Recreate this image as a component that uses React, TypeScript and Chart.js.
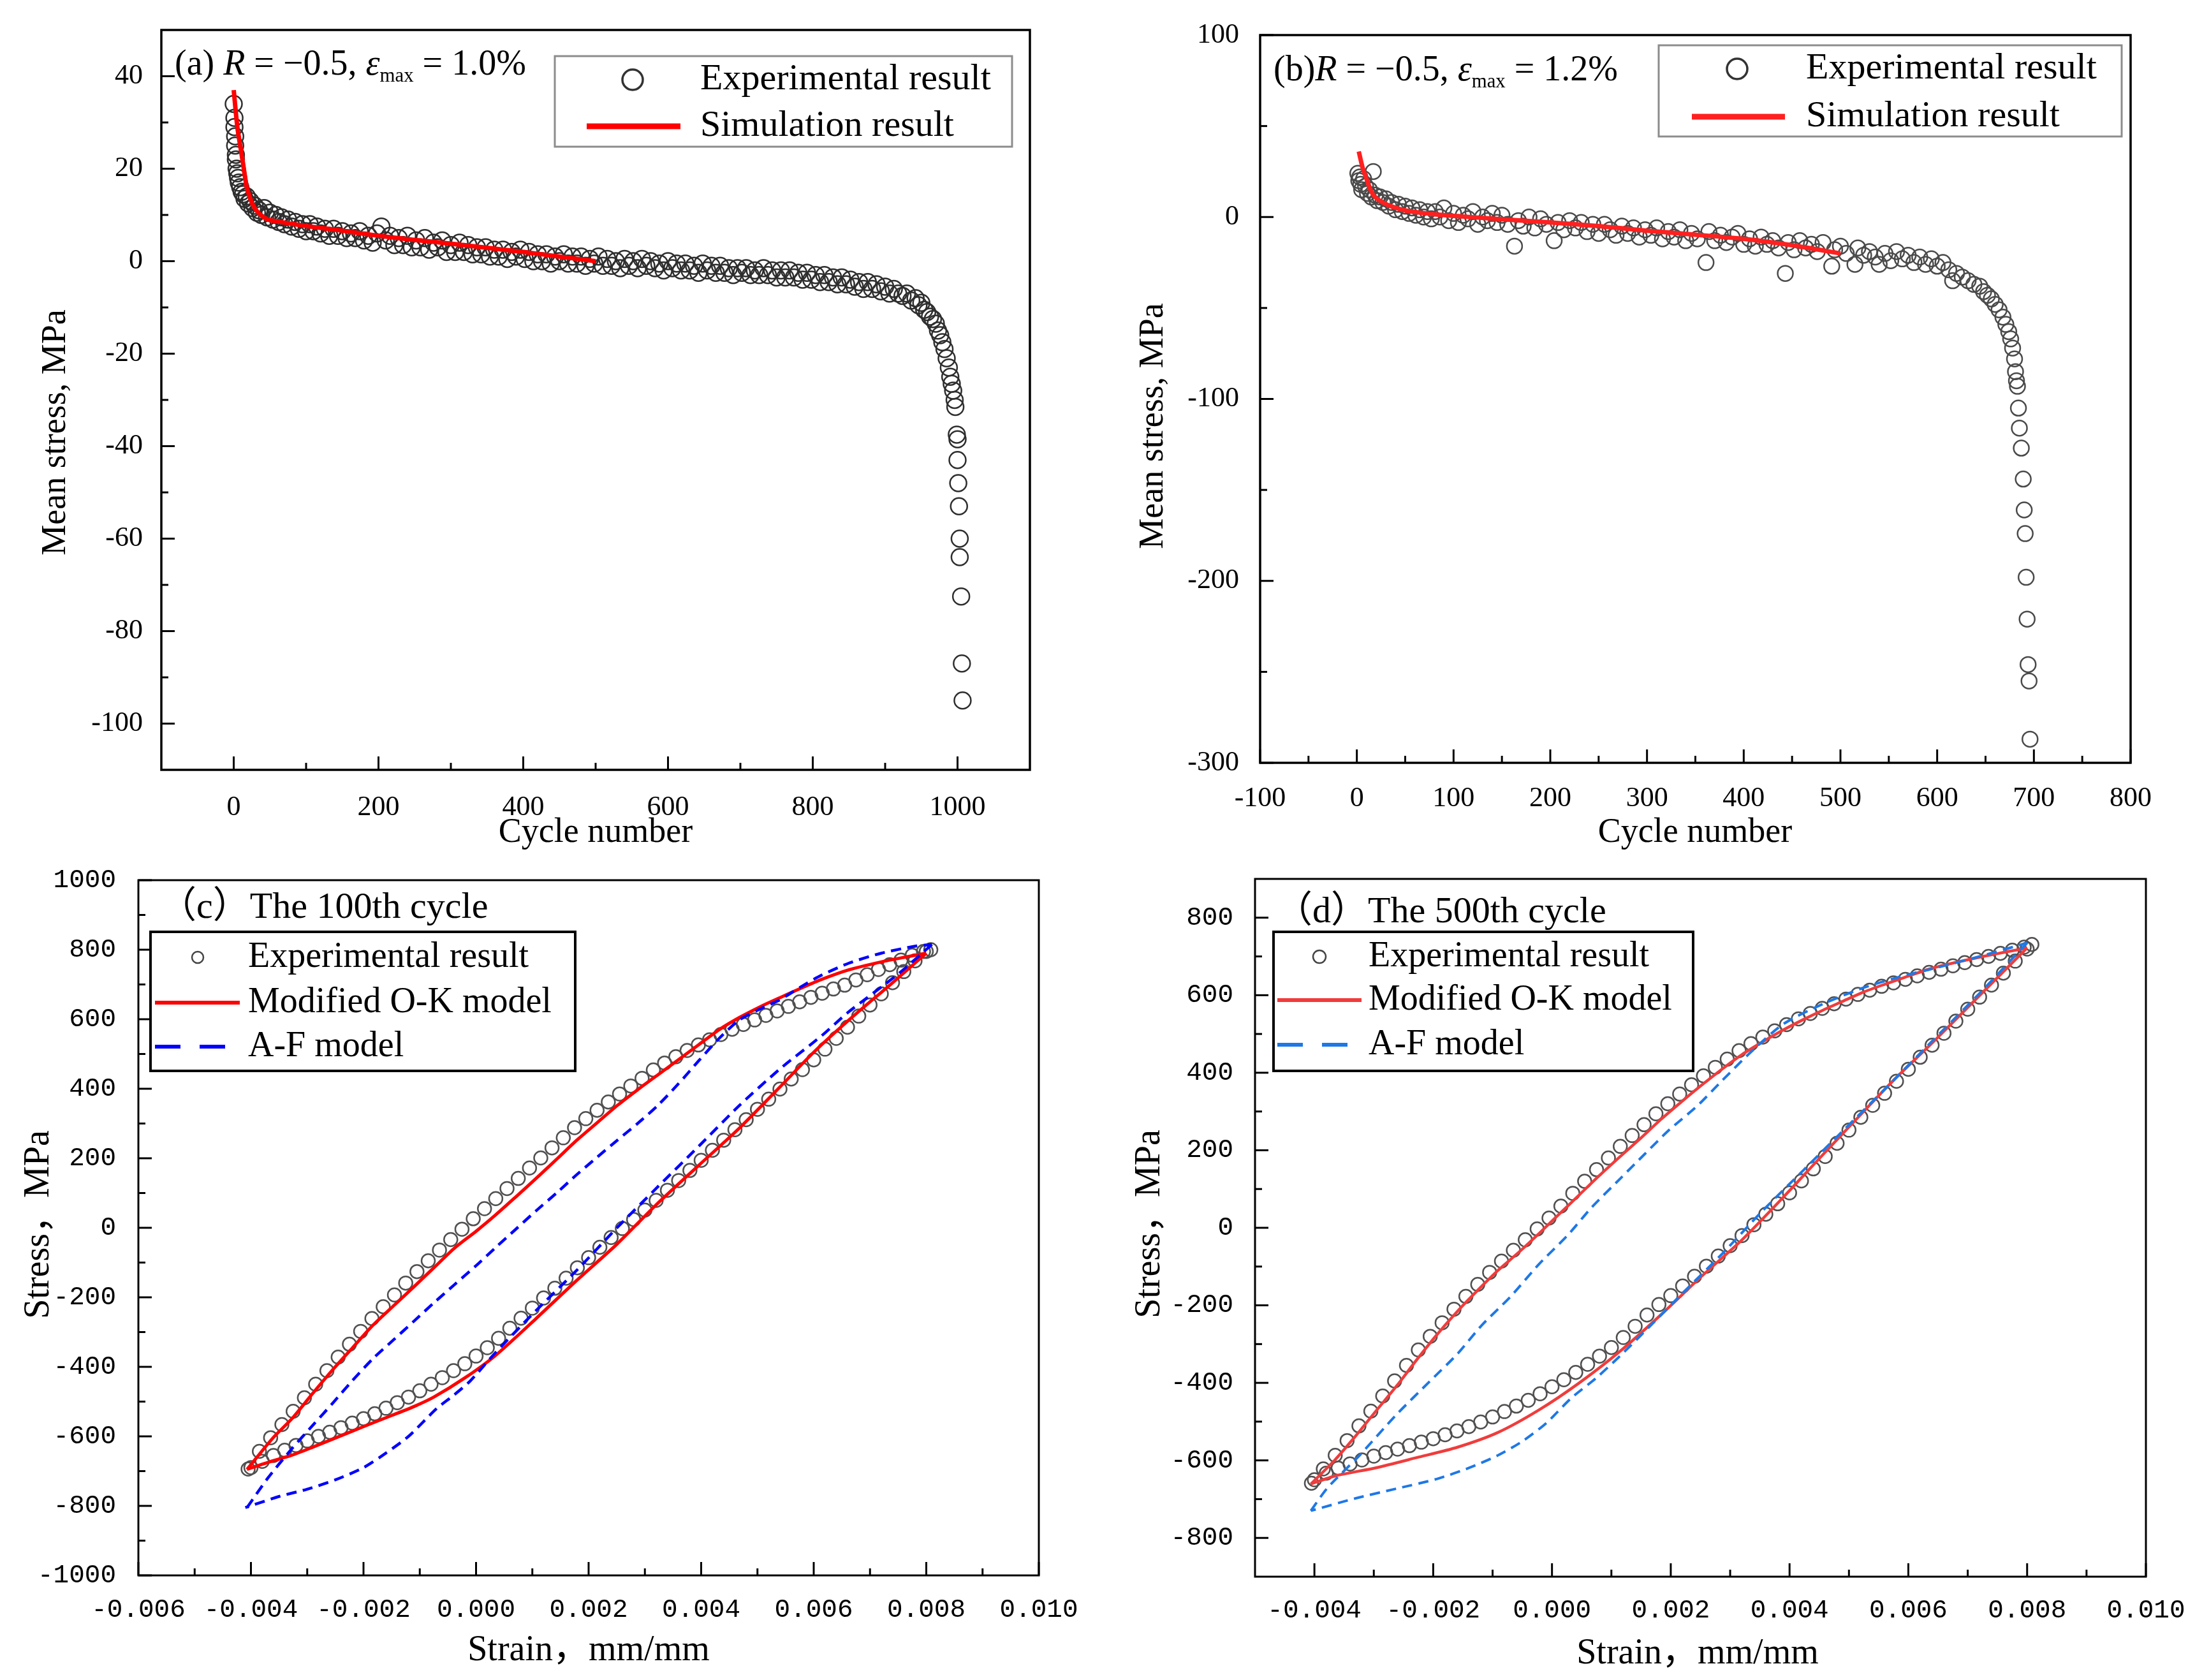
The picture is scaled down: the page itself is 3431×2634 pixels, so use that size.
import React, { useEffect, useRef } from 'react';
import { Chart, registerables } from 'chart.js';

Chart.register(...registerables);

type Pt = [number, number];

// ---- (a) R = -0.5, emax = 1.0% : mean stress vs cycle ----
const cycleTicksA = [0, 200, 400, 600, 800, 1000];
const stressTicksA = [-100, -80, -60, -40, -20, 0, 20, 40];
const expA: Pt[] = [
  [0, 34], [1, 31], [1, 29], [2, 27], [2, 25], [3, 23], [3, 22], [4, 20], [5, 19], [6, 18], [7, 17], [9, 16],
  [11, 15], [13, 14.5], [15, 13.5], [18, 14], [20, 12.5], [23, 13], [26, 11.5], [29, 12], [32, 10.5], [35, 11],
  [38, 10], [42, 11.5], [46, 9.5], [50, 10.5], [54, 9], [58, 10], [62, 8.5], [66, 9.5], [70, 8], [75, 9],
  [80, 7.5], [85, 8.5], [90, 7], [95, 8], [100, 6.5], [105, 8], [110, 6.5], [115, 7.5], [120, 6], [126, 7],
  [132, 5.5], [138, 7], [144, 5.5], [150, 6.5], [156, 5], [162, 6], [168, 5], [174, 6.5], [180, 4.5], [186, 5.5],
  [192, 4], [198, 6], [204, 7.5], [210, 4.5], [216, 5.5], [222, 3.5], [228, 5], [234, 3.5], [240, 5.5], [246, 3],
  [252, 4.5], [258, 3], [264, 5], [270, 2.5], [276, 4], [282, 3], [288, 4.5], [294, 2], [300, 3.5], [306, 2],
  [312, 4], [318, 2], [324, 3.5], [330, 1.5], [336, 3], [342, 1.5], [348, 3], [354, 1], [360, 2.5], [366, 1],
  [372, 2.5], [378, 0.5], [384, 2], [390, 1], [396, 2.5], [402, 0.5], [408, 2], [414, 0], [420, 1.5], [426, 0],
  [432, 1.5], [438, -0.5], [444, 1], [450, 0], [456, 1.5], [462, -0.5], [468, 1], [474, -0.5], [480, 1], [486, -1],
  [492, 0.5], [498, -0.5], [504, 1], [510, -1], [516, 0.5], [522, -1], [528, 0], [534, -1.5], [540, 0.5], [546, -1],
  [552, 0], [558, -1.5], [564, 0.5], [570, -1], [576, 0], [582, -1.5], [588, -0.5], [594, -2], [600, 0], [606, -1.5],
  [612, -0.5], [618, -2], [624, -0.5], [630, -2], [636, -1], [642, -2.5], [648, -0.5], [654, -2], [660, -1], [666, -2.5],
  [672, -1], [678, -2.5], [684, -1.5], [690, -3], [696, -1.5], [702, -2.5], [708, -1.5], [714, -3], [720, -2], [726, -3],
  [732, -1.5], [738, -3], [744, -2], [750, -3.5], [756, -2], [762, -3.5], [768, -2], [774, -3.5], [780, -2.5], [786, -4],
  [792, -2.5], [798, -4], [804, -3], [810, -4.5], [816, -3], [822, -4.5], [828, -3.5], [834, -5], [840, -3.5], [846, -5],
  [852, -4], [858, -5.5], [864, -4.5], [870, -6], [876, -4.5], [882, -6], [888, -5], [894, -6.5], [900, -5.5], [906, -7],
  [912, -6], [918, -7], [924, -7.5], [930, -7], [936, -8.5], [942, -8], [946, -9.5], [950, -9], [954, -10.5], [958, -11],
  [962, -12], [966, -12.5], [970, -13.5], [973, -15], [976, -16], [979, -17.5], [982, -19], [985, -21], [988, -23],
  [990, -25], [992, -26.5], [994, -28], [996, -30], [997, -31.5], [999, -37.5], [1000, -38.5], [1000, -43], [1001, -48],
  [1002, -53], [1003, -60], [1003, -64], [1005, -72.5], [1006, -87], [1007, -95],
];
const simA: Pt[] = [
  [0, 37], [5, 29], [10, 24], [13, 21], [18, 16], [23, 13.5], [27, 12], [35, 10.3], [47, 9], [60, 8.6],
  [100, 7.6], [150, 6.6], [200, 5.5], [250, 4.6], [300, 3.8], [350, 2.9], [400, 2], [450, 1], [500, 0],
];

// ---- (b) R = -0.5, emax = 1.2% ----
const cycleTicksB = [-100, 0, 100, 200, 300, 400, 500, 600, 700, 800];
const stressTicksB = [-300, -200, -100, 0, 100];
const expB: Pt[] = [
  [1, 24], [2, 20], [3, 22], [4, 18], [5, 15], [7, 21], [9, 17], [11, 13], [13, 15], [15, 11], [17, 25], [19, 12],
  [21, 9], [24, 11], [27, 8], [30, 10], [33, 6], [36, 8], [40, 4], [43, 7], [47, 3], [50, 6], [54, 2], [57, 5],
  [61, 1], [65, 4], [69, 0], [73, 3], [77, -1], [81, 3], [86, 0], [90, 5], [95, -2], [100, 2], [105, -3], [110, 1],
  [115, -1], [120, 3], [125, -4], [130, 0], [135, -2], [140, 2], [145, -3], [150, 1], [156, -4], [163, -16], [167, -2],
  [172, -5], [178, 0], [184, -6], [190, -1], [196, -4], [204, -13], [208, -3], [214, -7], [220, -2], [226, -6],
  [232, -3], [238, -8], [244, -4], [250, -9], [256, -4], [262, -7], [268, -10], [274, -5], [280, -9], [286, -6],
  [292, -11], [298, -7], [304, -10], [310, -6], [316, -12], [322, -8], [328, -11], [334, -7], [340, -13], [346, -9],
  [352, -12], [361, -25], [364, -8], [370, -13], [376, -10], [382, -14], [388, -11], [394, -9], [400, -15], [406, -12],
  [412, -16], [418, -11], [424, -15], [430, -13], [436, -17], [443, -31], [446, -14], [452, -18], [458, -13], [464, -17],
  [470, -15], [476, -19], [482, -14], [491, -27], [494, -18], [500, -16], [506, -20], [515, -26], [518, -17], [524, -21],
  [530, -19], [536, -22], [540, -26], [546, -20], [552, -24], [558, -19], [564, -23], [570, -21], [576, -25], [582, -22],
  [588, -26], [594, -23], [600, -27], [606, -25], [612, -29], [616, -35], [620, -31], [626, -33], [632, -35], [638, -37],
  [644, -38], [648, -41], [652, -43], [656, -45], [660, -48], [664, -51], [668, -55], [671, -59], [674, -63], [676, -67],
  [678, -72], [680, -78], [681, -85], [682, -90], [683, -93], [684, -105], [685, -116], [687, -127], [689, -144],
  [690, -161], [691, -174], [692, -198], [693, -221], [694, -246], [695, -255], [696, -287],
];
const simB: Pt[] = [
  [2, 36], [6, 27], [10, 21], [13, 16.5], [16, 13], [20, 10.5], [27, 8], [35, 6], [50, 3.6], [65, 2.4], [80, 1.5],
  [100, 0.6], [150, -1.2], [200, -3], [250, -5], [300, -7.5], [350, -9.7], [400, -12], [450, -15.5], [500, -20],
];

// ---- (c) the 100th cycle ----
const strainTicksC = [-0.006, -0.004, -0.002, 0, 0.002, 0.004, 0.006, 0.008, 0.01];
const stressTicksC = [-1000, -800, -600, -400, -200, 0, 200, 400, 600, 800, 1000];
const expLoadC: Pt[] = [
  [-0.00405, -694], [-0.00385, -643], [-0.00365, -604], [-0.00345, -566], [-0.00325, -528], [-0.00305, -489],
  [-0.00285, -450], [-0.00265, -411], [-0.00245, -372], [-0.00225, -335], [-0.00205, -298], [-0.00185, -261],
  [-0.00165, -227], [-0.00145, -193], [-0.00125, -159], [-0.00105, -126], [-0.00085, -95], [-0.00065, -64],
  [-0.00045, -34], [-0.00025, -4], [-0.00005, 26], [0.00015, 55], [0.00035, 84], [0.00055, 113], [0.00075, 142],
  [0.00095, 172], [0.00115, 201], [0.00135, 230], [0.00155, 259], [0.00175, 288], [0.00195, 314], [0.00215, 338],
  [0.00235, 362], [0.00255, 385], [0.00275, 408], [0.00295, 430], [0.00315, 454], [0.00335, 474], [0.00355, 492],
  [0.00375, 510], [0.00395, 526], [0.00415, 541], [0.00435, 556], [0.00455, 571], [0.00475, 585], [0.00495, 598],
  [0.00515, 611], [0.00535, 624], [0.00555, 637], [0.00575, 650], [0.00595, 663], [0.00615, 675], [0.00635, 687],
  [0.00655, 698], [0.00675, 713], [0.00695, 728], [0.00715, 743], [0.00735, 757], [0.00755, 770], [0.00775, 784],
  [0.00795, 795], [0.00808, 800],
];
const expUnloadC: Pt[] = [
  [0.008, 795], [0.0078, 768], [0.0076, 737], [0.0074, 705], [0.0072, 673], [0.007, 641], [0.0068, 609],
  [0.0066, 577], [0.0064, 545], [0.0062, 514], [0.006, 483], [0.0058, 455], [0.0056, 428], [0.0054, 399],
  [0.0052, 370], [0.005, 341], [0.0048, 311], [0.0046, 282], [0.0044, 252], [0.0042, 223], [0.004, 194],
  [0.0038, 165], [0.0036, 136], [0.0034, 108], [0.0032, 79], [0.003, 51], [0.0028, 24], [0.0026, -2],
  [0.0024, -28], [0.0022, -56], [0.002, -86], [0.0018, -115], [0.0016, -145], [0.0014, -174], [0.0012, -202],
  [0.001, -231], [0.0008, -260], [0.0006, -289], [0.0004, -318], [0.0002, -345], [0, -369], [-0.0002, -391],
  [-0.0004, -411], [-0.0006, -431], [-0.0008, -450], [-0.001, -469], [-0.0012, -487], [-0.0014, -503],
  [-0.0016, -519], [-0.0018, -535], [-0.002, -549], [-0.0022, -562], [-0.0024, -575], [-0.0026, -588],
  [-0.0028, -600], [-0.003, -613], [-0.0032, -626], [-0.0034, -640], [-0.0036, -655], [-0.0038, -672], [-0.004, -690],
];
const okLoadC: Pt[] = [
  [-0.00407, -695], [-0.0036, -603], [-0.00327, -549], [-0.0029, -476], [-0.00255, -409], [-0.0022, -346],
  [-0.00183, -280], [-0.00145, -222], [-0.0011, -169], [-0.00075, -115], [-0.00038, -58], [0, -10], [0.00034, 36],
  [0.0007, 88], [0.00106, 141], [0.00145, 200], [0.00179, 252], [0.00215, 302], [0.00251, 352], [0.00287, 397],
  [0.00323, 440], [0.0036, 484], [0.00396, 527], [0.00432, 570], [0.00468, 605], [0.00505, 636], [0.0054, 662],
  [0.00577, 689], [0.00613, 714], [0.00662, 742], [0.0072, 765], [0.0076, 778], [0.008, 790],
];
const okUnloadC: Pt[] = [
  [0.008, 790], [0.0074, 705], [0.00662, 597], [0.006, 505], [0.0054, 405], [0.0047, 290], [0.00396, 180],
  [0.0032, 66], [0.00251, -46], [0.00179, -151], [0.00106, -262], [0.00034, -368], [-0.0002, -432],
  [-0.00075, -487], [-0.0011, -514], [-0.0015, -540], [-0.00183, -561], [-0.0022, -585], [-0.00255, -608],
  [-0.0029, -631], [-0.00327, -654], [-0.0037, -675], [-0.00407, -695],
];
const afLoadC: Pt[] = [
  [-0.00407, -805], [-0.0037, -720], [-0.00327, -635], [-0.0029, -568], [-0.00255, -505], [-0.0022, -440],
  [-0.00183, -376], [-0.00145, -320], [-0.0011, -268], [-0.00075, -216], [-0.00038, -163], [0, -109],
  [0.00034, -58], [0.0007, -5], [0.00106, 48], [0.00145, 103], [0.00179, 153], [0.00215, 203], [0.00251, 252],
  [0.00287, 300], [0.00323, 352], [0.0036, 415], [0.00396, 481], [0.00432, 545], [0.00468, 598], [0.00505, 630],
  [0.0054, 656], [0.00577, 693], [0.00613, 726], [0.00662, 761], [0.0072, 790], [0.0078, 810], [0.0081, 815],
];
const afUnloadC: Pt[] = [
  [0.0081, 815], [0.0075, 730], [0.00662, 621], [0.00613, 551], [0.0054, 457], [0.00468, 352], [0.00396, 235],
  [0.00323, 118], [0.00251, 1], [0.00179, -122], [0.00106, -239], [0.00034, -360], [-0.0001, -440],
  [-0.0004, -482], [-0.0007, -520], [-0.0012, -600], [-0.0016, -648], [-0.002, -690], [-0.0025, -725],
  [-0.003, -752], [-0.0035, -773], [-0.0041, -805],
];

// ---- (d) the 500th cycle ----
const strainTicksD = [-0.004, -0.002, 0, 0.002, 0.004, 0.006, 0.008, 0.01];
const stressTicksD = [-800, -600, -400, -200, 0, 200, 400, 600, 800];
const expLoadD: Pt[] = [
  [-0.00405, -659], [-0.00385, -622], [-0.00365, -587], [-0.00345, -549], [-0.00325, -511], [-0.00305, -473],
  [-0.00285, -434], [-0.00265, -395], [-0.00245, -355], [-0.00225, -315], [-0.00205, -280], [-0.00185, -245],
  [-0.00165, -210], [-0.00145, -177], [-0.00125, -146], [-0.00105, -115], [-0.00085, -86], [-0.00065, -58],
  [-0.00045, -31], [-0.00025, -3], [-0.00005, 25], [0.00015, 56], [0.00035, 89], [0.00055, 120], [0.00075, 150],
  [0.00095, 180], [0.00115, 210], [0.00135, 238], [0.00155, 266], [0.00175, 294], [0.00195, 320], [0.00215, 345],
  [0.00235, 369], [0.00255, 392], [0.00275, 414], [0.00295, 435], [0.00315, 457], [0.00335, 475], [0.00355, 492],
  [0.00375, 508], [0.00395, 524], [0.00415, 539], [0.00435, 553], [0.00455, 566], [0.00475, 578], [0.00495, 590],
  [0.00515, 602], [0.00535, 613], [0.00555, 623], [0.00575, 632], [0.00595, 641], [0.00615, 650], [0.00635, 659],
  [0.00655, 667], [0.00675, 676], [0.00695, 684], [0.00715, 692], [0.00735, 700], [0.00755, 708], [0.00775, 716],
  [0.00795, 724], [0.00808, 731],
];
const expUnloadD: Pt[] = [
  [0.008, 719], [0.0078, 688], [0.0076, 657], [0.0074, 626], [0.0072, 595], [0.007, 564], [0.0068, 533],
  [0.0066, 502], [0.0064, 471], [0.0062, 440], [0.006, 409], [0.0058, 378], [0.0056, 347], [0.0054, 316],
  [0.0052, 285], [0.005, 252], [0.0048, 218], [0.0046, 184], [0.0044, 152], [0.0042, 121], [0.004, 90],
  [0.0038, 62], [0.0036, 35], [0.0034, 8], [0.0032, -20], [0.003, -46], [0.0028, -73], [0.0026, -99],
  [0.0024, -125], [0.0022, -150], [0.002, -175], [0.0018, -198], [0.0016, -225], [0.0014, -254], [0.0012, -283],
  [0.001, -309], [0.0008, -331], [0.0006, -352], [0.0004, -373], [0.0002, -392], [0, -410], [-0.0002, -428],
  [-0.0004, -445], [-0.0006, -460], [-0.0008, -474], [-0.001, -488], [-0.0012, -501], [-0.0014, -513],
  [-0.0016, -524], [-0.0018, -534], [-0.002, -544], [-0.0022, -553], [-0.0024, -562], [-0.0026, -571],
  [-0.0028, -580], [-0.003, -589], [-0.0032, -599], [-0.0034, -609], [-0.0036, -620], [-0.0038, -633], [-0.004, -650],
];
const okLoadD: Pt[] = [
  [-0.00406, -661], [-0.00365, -598], [-0.0033, -536], [-0.00296, -472], [-0.0026, -405], [-0.00228, -341],
  [-0.00195, -278], [-0.00159, -215], [-0.00125, -161], [-0.00091, -110], [-0.00055, -62], [-0.00022, -15],
  [0.00012, 35], [0.00046, 85], [0.0008, 135], [0.00115, 184], [0.0015, 232], [0.00183, 279], [0.00218, 325],
  [0.00252, 368], [0.00286, 409], [0.0032, 447], [0.00355, 480], [0.00389, 510], [0.00423, 537], [0.00457, 562],
  [0.00492, 586], [0.00526, 609], [0.0056, 628], [0.00594, 646], [0.00641, 670], [0.0072, 698], [0.008, 722],
];
const okUnloadD: Pt[] = [
  [0.008, 722], [0.0074, 630], [0.00641, 478], [0.0058, 388], [0.00526, 302], [0.00457, 190], [0.00389, 78],
  [0.0032, -31], [0.00252, -125], [0.00183, -225], [0.00115, -318], [0.00046, -400], [-0.00022, -470],
  [-0.00091, -528], [-0.00159, -566], [-0.00228, -593], [-0.00296, -619], [-0.00365, -640], [-0.00406, -661],
];
const afLoadD: Pt[] = [
  [-0.00406, -730], [-0.00378, -671], [-0.00324, -587], [-0.00262, -482], [-0.00207, -398], [-0.00159, -325],
  [-0.00118, -251], [-0.0007, -178], [-0.00022, -94], [0.00026, -20], [0.00067, 53], [0.00115, 127],
  [0.00156, 190], [0.00197, 252], [0.00245, 315], [0.00286, 379], [0.00334, 452], [0.00389, 525], [0.00457, 578],
  [0.00526, 620], [0.00594, 651], [0.0064, 668], [0.0072, 700], [0.008, 735],
];
const afUnloadD: Pt[] = [
  [0.008, 735], [0.0072, 605], [0.00641, 483], [0.0056, 357], [0.00491, 252], [0.00423, 148], [0.00354, 43],
  [0.00286, -68], [0.00217, -173], [0.00163, -257], [0.00115, -330], [0.00074, -388], [0.00032, -440],
  [-0.00009, -503], [-0.0005, -551], [-0.00091, -587], [-0.00139, -619], [-0.00194, -648], [-0.00262, -673],
  [-0.00331, -698], [-0.00406, -730],
];

const SERIF = '"Liberation Serif", "Noto Sans CJK SC", serif';
const MONO = '"Liberation Mono", monospace';
const EXP_LABEL = 'Experimental result';

const toXY = (d: Pt[]) => d.map(([x, y]) => ({ x, y }));

const circles = (d: Pt[], r: number, color: string, w: number) => ({
  data: toXY(d),
  showLine: false,
  pointStyle: 'circle',
  pointRadius: r,
  pointHoverRadius: r,
  pointBorderColor: color,
  pointBackgroundColor: 'rgba(0,0,0,0)',
  pointBorderWidth: w,
});

const curve = (d: Pt[], color: string, w: number, dash: number[] = [], tension = 0.25) => ({
  data: toXY(d),
  showLine: true,
  pointRadius: 0,
  pointHoverRadius: 0,
  borderColor: color,
  borderWidth: w,
  borderDash: dash,
  tension,
  fill: false,
});

const minorOf = (major: number[], min: number, max: number) => {
  const step = major[1] - major[0];
  const eps = Math.abs(step) * 1e-6;
  const cand = [major[0] - step / 2];
  for (let i = 0; i < major.length - 1; i++) cand.push((major[i] + major[i + 1]) / 2);
  cand.push(major[major.length - 1] + step / 2);
  return cand.filter((v) => v > min + eps && v < max - eps);
};

interface Seg { t: string; it?: boolean; sub?: boolean }
interface LegendItem { kind: 'circle' | 'line' | 'dash'; y: number; text: string; color: string; lw: number; r?: number }

// draws frame, inward ticks, axis titles, panel label and legend box
const decorPlugin = (cfg: any) => ({
  id: 'decor',
  afterDraw(chart: any) {
    const { ctx, chartArea: a, scales } = chart;
    const xs = scales.x;
    const ys = scales.y;
    ctx.save();
    ctx.strokeStyle = '#000';
    ctx.lineWidth = cfg.frameW;
    ctx.strokeRect(a.left, a.top, a.right - a.left, a.bottom - a.top);

    ctx.lineWidth = 3;
    const tickX = (v: number, len: number) => {
      const p = xs.getPixelForValue(v);
      ctx.beginPath();
      ctx.moveTo(p, a.bottom);
      ctx.lineTo(p, a.bottom - len);
      ctx.stroke();
    };
    const tickY = (v: number, len: number) => {
      const p = ys.getPixelForValue(v);
      ctx.beginPath();
      ctx.moveTo(a.left, p);
      ctx.lineTo(a.left + len, p);
      ctx.stroke();
    };
    cfg.xTicks.forEach((v: number) => tickX(v, 21));
    minorOf(cfg.xTicks, cfg.xMin, cfg.xMax).forEach((v) => tickX(v, 11));
    cfg.yTicks.forEach((v: number) => tickY(v, 21));
    minorOf(cfg.yTicks, cfg.yMin, cfg.yMax).forEach((v) => tickY(v, 11));

    // axis titles
    ctx.fillStyle = '#000';
    ctx.textAlign = 'center';
    ctx.textBaseline = 'middle';
    ctx.font = `${cfg.titleSize}px ${SERIF}`;
    ctx.fillText(cfg.xTitle, cfg.xTitleAt[0], cfg.xTitleAt[1]);
    ctx.save();
    ctx.translate(cfg.yTitleAt[0], cfg.yTitleAt[1]);
    ctx.rotate(-Math.PI / 2);
    ctx.fillText(cfg.yTitle, 0, 0);
    ctx.restore();

    // panel label
    ctx.textAlign = 'left';
    ctx.textBaseline = 'alphabetic';
    let x = cfg.labelAt[0];
    const size = cfg.labelSize;
    cfg.label.forEach((s: Seg) => {
      const fs = s.sub ? size * 0.55 : size;
      ctx.font = `${s.it ? 'italic ' : ''}${fs}px ${SERIF}`;
      ctx.fillText(s.t, x, cfg.labelAt[1] + (s.sub ? size * 0.2 : 0));
      x += ctx.measureText(s.t).width;
    });

    // legend
    const lg = cfg.legend;
    ctx.fillStyle = '#fff';
    ctx.fillRect(lg.box[0], lg.box[1], lg.box[2] - lg.box[0], lg.box[3] - lg.box[1]);
    ctx.strokeStyle = lg.stroke;
    ctx.lineWidth = lg.lw;
    ctx.strokeRect(lg.box[0], lg.box[1], lg.box[2] - lg.box[0], lg.box[3] - lg.box[1]);
    lg.items.forEach((it: LegendItem) => {
      ctx.strokeStyle = it.color;
      ctx.lineWidth = it.lw;
      if (it.kind === 'circle') {
        ctx.setLineDash([]);
        ctx.beginPath();
        ctx.arc(lg.cx, it.y, it.r || 10, 0, Math.PI * 2);
        ctx.stroke();
      } else {
        ctx.setLineDash(it.kind === 'dash' ? lg.dash : []);
        ctx.beginPath();
        ctx.moveTo(lg.x0, it.y);
        ctx.lineTo(lg.x1, it.y);
        ctx.stroke();
        ctx.setLineDash([]);
      }
      ctx.fillStyle = '#000';
      ctx.font = `${lg.size}px ${SERIF}`;
      ctx.textBaseline = 'middle';
      ctx.fillText(it.text, lg.textX, it.y);
    });
    ctx.restore();
  },
});

const panelA = {
  left: 0, top: 0, width: 1715, height: 1345,
  pad: { left: 0, top: 47, right: 100, bottom: 0 }, yAxisW: 253, xAxisH: 138,
  xMin: -100, xMax: 1100, yMin: -110, yMax: 50,
  xTicks: cycleTicksA, yTicks: stressTicksA,
  tickFont: { family: SERIF, size: 44 }, xTickPad: 25, yTickPad: 21,
  xFmt: (v: number) => String(v), yFmt: (v: number) => String(v),
  datasets: [curve(simA, '#ff0000', 7, [], 0.2), circles(expA, 13, '#2e2e2e', 2.5)],
  frameW: 3.5, titleSize: 54,
  xTitle: 'Cycle number', xTitleAt: [934, 1306], yTitle: 'Mean stress, MPa', yTitleAt: [88, 678],
  labelSize: 56, labelAt: [274, 117],
  label: [{ t: '(a) ' }, { t: 'R', it: true }, { t: ' = \u22120.5, ' }, { t: '\u03b5', it: true }, { t: 'max', sub: true }, { t: ' = 1.0%' }],
  legend: {
    box: [870, 88, 1587, 230], stroke: '#8c8c8c', lw: 3, size: 58, textX: 1098, cx: 992, x0: 920, x1: 1067, dash: [],
    items: [
      { kind: 'circle', y: 125, text: EXP_LABEL, color: '#333', lw: 3.5, r: 16 },
      { kind: 'line', y: 198, text: 'Simulation result', color: '#ff0000', lw: 9 },
    ],
  },
};

const panelB = {
  left: 1715, top: 0, width: 1716, height: 1345,
  pad: { left: 0, top: 55, right: 90, bottom: 0 }, yAxisW: 261, xAxisH: 149,
  xMin: -100, xMax: 800, yMin: -300, yMax: 100,
  xTicks: cycleTicksB, yTicks: stressTicksB,
  tickFont: { family: SERIF, size: 44 }, xTickPad: 22, yTickPad: 25,
  xFmt: (v: number) => String(v), yFmt: (v: number) => String(v),
  datasets: [curve(simB, '#ff2020', 7, [], 0.2), circles(expB, 12, '#4a4a4a', 2.5)],
  frameW: 3.5, titleSize: 54,
  xTitle: 'Cycle number', xTitleAt: [943, 1306], yTitle: 'Mean stress, MPa', yTitleAt: [94, 668],
  labelSize: 56, labelAt: [282, 126],
  label: [{ t: '(b)' }, { t: 'R', it: true }, { t: ' = \u22120.5, ' }, { t: '\u03b5', it: true }, { t: 'max', sub: true }, { t: ' = 1.2%' }],
  legend: {
    box: [886, 71, 1612, 214], stroke: '#8c8c8c', lw: 3, size: 58, textX: 1117, cx: 1009, x0: 938, x1: 1084, dash: [],
    items: [
      { kind: 'circle', y: 108, text: EXP_LABEL, color: '#333', lw: 3.5, r: 16 },
      { kind: 'line', y: 183, text: 'Simulation result', color: '#ff2020', lw: 9 },
    ],
  },
};

const fmtStrain = (v: number) => Number(v).toFixed(3);

const panelC = {
  left: 0, top: 1345, width: 1715, height: 1289,
  pad: { left: 0, top: 35, right: 86, bottom: 0 }, yAxisW: 217, xAxisH: 164,
  xMin: -0.006, xMax: 0.01, yMin: -1000, yMax: 1000,
  xTicks: strainTicksC, yTicks: stressTicksC,
  tickFont: { family: MONO, size: 41 }, xTickPad: 22, yTickPad: 27,
  xFmt: fmtStrain, yFmt: (v: number) => String(v),
  datasets: [
    curve(afLoadC, '#0000ff', 4.5, [16, 10]), curve(afUnloadC, '#0000ff', 4.5, [16, 10]),
    curve(okLoadC, '#ff0000', 5), curve(okUnloadC, '#ff0000', 5),
    circles(expLoadC, 10.5, '#505050', 2.5), circles(expUnloadC, 10.5, '#505050', 2.5),
  ],
  frameW: 3, titleSize: 56,
  xTitle: 'Strain\uff0cmm/mm', xTitleAt: [923, 1243], yTitle: 'Stress\uff0cMPa', yTitleAt: [61, 575],
  labelSize: 58, labelAt: [250, 94],
  label: [{ t: '\uff08c\uff09The 100th cycle' }],
  legend: {
    box: [236, 116, 902, 334], stroke: '#000', lw: 4, size: 56, textX: 389, cx: 310, x0: 243, x1: 376, dash: [40, 30],
    items: [
      { kind: 'circle', y: 156, text: EXP_LABEL, color: '#444', lw: 2.5, r: 9 },
      { kind: 'line', y: 227, text: 'Modified O-K model', color: '#ff0000', lw: 6 },
      { kind: 'dash', y: 296, text: 'A-F model', color: '#0000ff', lw: 6 },
    ],
  },
};

const panelD = {
  left: 1715, top: 1345, width: 1716, height: 1289,
  pad: { left: 0, top: 33, right: 66, bottom: 0 }, yAxisW: 253, xAxisH: 162,
  xMin: -0.005, xMax: 0.01, yMin: -900, yMax: 900,
  xTicks: strainTicksD, yTicks: stressTicksD,
  tickFont: { family: MONO, size: 41 }, xTickPad: 21, yTickPad: 26,
  xFmt: fmtStrain, yFmt: (v: number) => String(v),
  datasets: [
    curve(afLoadD, '#1e78e6', 4, [16, 10]), curve(afUnloadD, '#1e78e6', 4, [16, 10]),
    curve(okLoadD, '#f03c3c', 4.5), curve(okUnloadD, '#f03c3c', 4.5),
    circles(expLoadD, 10.5, '#505050', 2.5), circles(expUnloadD, 10.5, '#505050', 2.5),
  ],
  frameW: 3, titleSize: 56,
  xTitle: 'Strain\uff0cmm/mm', xTitleAt: [947, 1248], yTitle: 'Stress\uff0cMPa', yTitleAt: [88, 574],
  labelSize: 58, labelAt: [285, 101],
  label: [{ t: '\uff08d\uff09The 500th cycle' }],
  legend: {
    box: [282, 116, 940, 334], stroke: '#000', lw: 4, size: 56, textX: 431, cx: 354, x0: 288, x1: 420, dash: [40, 30],
    items: [
      { kind: 'circle', y: 155, text: EXP_LABEL, color: '#444', lw: 2.5, r: 10 },
      { kind: 'line', y: 223, text: 'Modified O-K model', color: '#f03c3c', lw: 6 },
      { kind: 'dash', y: 293, text: 'A-F model', color: '#1e78e6', lw: 6 },
    ],
  },
};

const Panel: React.FC<{ cfg: any }> = ({ cfg }) => {
  const canvasRef = useRef<HTMLCanvasElement | null>(null);

  useEffect(() => {
    if (!canvasRef.current) return;
    const chart = new Chart(canvasRef.current, {
      type: 'scatter',
      data: { datasets: cfg.datasets },
      options: {
        animation: false,
        responsive: false,
        devicePixelRatio: 1,
        events: [],
        layout: { padding: cfg.pad },
        plugins: { legend: { display: false }, tooltip: { enabled: false } },
        scales: {
          x: {
            type: 'linear',
            min: cfg.xMin,
            max: cfg.xMax,
            grid: { display: false },
            border: { display: false },
            ticks: { font: cfg.tickFont, color: '#000', padding: cfg.xTickPad, maxRotation: 0, autoSkip: false, callback: cfg.xFmt },
            afterBuildTicks: (s: any) => { s.ticks = cfg.xTicks.map((v: number) => ({ value: v })); },
            afterFit: (s: any) => { s.height = cfg.xAxisH; s.paddingLeft = 0; s.paddingRight = 0; },
          },
          y: {
            type: 'linear',
            min: cfg.yMin,
            max: cfg.yMax,
            grid: { display: false },
            border: { display: false },
            ticks: { font: cfg.tickFont, color: '#000', padding: cfg.yTickPad, autoSkip: false, callback: cfg.yFmt },
            afterBuildTicks: (s: any) => { s.ticks = cfg.yTicks.map((v: number) => ({ value: v })); },
            afterFit: (s: any) => { s.width = cfg.yAxisW; s.paddingTop = 0; s.paddingBottom = 0; },
          },
        },
      } as any,
      plugins: [decorPlugin(cfg)],
    });
    return () => {
      chart.destroy();
    };
  }, [cfg]);

  return (
    <canvas
      ref={canvasRef}
      width={cfg.width}
      height={cfg.height}
      style={{ position: 'absolute', left: cfg.left, top: cfg.top, width: cfg.width, height: cfg.height }}
    />
  );
};

const App: React.FC = () => (
  <div style={{ position: 'absolute', left: 0, top: 0, width: 3431, height: 2634, background: '#fff' }}>
    <Panel cfg={panelA} />
    <Panel cfg={panelB} />
    <Panel cfg={panelC} />
    <Panel cfg={panelD} />
  </div>
);

export default App;
